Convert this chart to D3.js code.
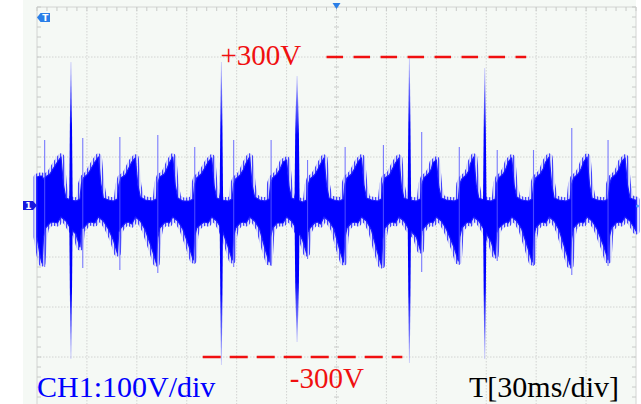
<!DOCTYPE html>
<html><head><meta charset="utf-8">
<script src="https://cdn.jsdelivr.net/npm/d3@7"></script>
<style>
html,body{margin:0;padding:0;background:#fff;}
svg{display:block;}
</style></head>
<body>
<svg id="c" width="641" height="404"></svg>
<script>
// ---- data (time in ms, voltage in V) ----
const envT  = [0,1.8,3.0,3.9,5.1,7.8,9.6,12.3,
 14.4,15.9,17.4,20.4,23.4,25.8,26.7,27.9,30.6,32.4,34.8,
 36.9,38.4,39.9,42.9,45.9,48.3,49.2,50.4,53.1,54.9,57.0,
 59.1,60.6,62.1,65.1,69.3,71.7,72.6,73.8,76.5,78.3,79.5,
 81.6,83.1,84.6,87.6,91.5,93.9,94.8,96.0,98.7,100.5,102.9,
 105.0,106.5,108.0,111.0,114.9,117.3,118.2,119.4,122.1,123.9,125.7,
 127.8,129.3,130.8,133.8,137.1,139.5,140.4,141.6,144.3,146.1,147.9,
 150.0,151.5,153.0,156.0,159.6,162.0,162.9,164.1,166.8,168.6,170.4,
 172.5,174.0,175.5,178.5,181.8,184.2,185.1,186.3,189.0,190.8,192.9,
 195.0,196.5,198.0,201.0,204.6,207.0,207.9,209.1,211.8,213.6,215.4,
 217.5,219.0,220.5,223.5,228.0,230.4,231.3,232.5,235.2,237.0,237.9,
 240.0,241.5,243.0,246.0,250.8,253.2,254.1,255.3,258.0,259.8,260.4,
 262.5,264.0,265.5,268.5,273.0,275.4,276.3,277.5,280.2,282.0,283.2,
 285.3,286.8,288.3,291.3,295.2,297.6,298.5,299.7,302.4,304.2,305.7,
 307.8,309.3,310.8,313.8,318.0,320.4,321.3,322.5,325.2,327.0,328.5,
 330.6,332.1,333.6,336.6,340.8,343.2,344.1,345.3,348.0,349.8,351.3,
 353.4,354.9,356.4,359.4,360];
const envHi = [60,62,62,56,60,66,76,90,
 100,44,18,14,12,16,46,58,66,76,90,
 100,46,18,14,12,16,44,58,64,76,90,
 98,44,20,14,12,16,48,60,66,78,88,
 100,44,18,12,12,16,46,58,66,76,90,
 98,42,18,14,12,16,46,56,64,74,88,
 100,44,20,14,12,16,48,58,66,76,90,
 94,40,18,14,10,14,44,56,64,74,86,
 98,44,18,14,12,16,46,58,66,76,90,
 98,44,18,14,12,16,46,58,64,76,88,
 98,42,18,14,12,16,46,58,66,76,88,
 94,40,18,14,12,16,46,56,64,74,86,
 100,44,18,14,12,16,48,58,66,78,90,
 98,44,20,14,12,16,46,58,66,76,90,
 100,46,18,14,12,16,46,58,66,76,90,
 100,44,18,14,12,16,46,58,66,76,90,
 98,44,18,14,14];
const envLo = [-60,-96,-112,-62,-42,-32,-30,-32,
 -20,-24,-28,-44,-54,-80,-44,-42,-32,-30,-32,
 -20,-24,-28,-44,-66,-92,-50,-42,-32,-30,-34,
 -20,-24,-28,-46,-86,-112,-62,-42,-32,-30,-32,
 -20,-24,-28,-44,-80,-106,-58,-42,-34,-30,-32,
 -20,-24,-28,-44,-80,-106,-58,-42,-32,-30,-32,
 -20,-24,-28,-44,-84,-110,-60,-42,-32,-32,-32,
 -20,-24,-28,-44,-66,-92,-50,-42,-32,-30,-34,
 -20,-24,-28,-44,-84,-110,-60,-42,-32,-30,-32,
 -20,-24,-28,-46,-90,-116,-64,-42,-32,-30,-32,
 -20,-24,-28,-44,-60,-86,-48,-42,-32,-30,-32,
 -20,-24,-28,-44,-82,-108,-60,-42,-32,-30,-32,
 -20,-24,-28,-44,-70,-96,-52,-42,-34,-30,-32,
 -20,-24,-28,-44,-84,-110,-60,-42,-32,-30,-32,
 -20,-24,-28,-46,-90,-116,-64,-42,-32,-30,-32,
 -20,-24,-28,-44,-80,-106,-58,-42,-32,-30,-32,
 -20,-24,-28,-44,-48];

// thin noise spikes
const thinT  = [4.6,27.5,49.8,72.6,94.8,118.2,140.7,162.6,185.2,208.2,231.2,253.8,276.6,298.4,321.4,343.2];
const thinHi = [134,138,140,144,120,134,134,94,120,124,150,120,114,114,158,134];
const thinLo = [-120,-122,-126,-132,-114,-120,-118,-104,-116,-122,-130,-116,-108,-118,-136,-118];

// large spikes
const majT  = [20.4,110.8,156.3,223.8,269.1];
const majHi = [290,290,262,298,278];
const majLo = [-304,-316,-270,-312,-304];

// reference levels
const refV     = [300,-300];
const refStart = [174,99.6];
const refEnd   = [294,219.6];
const refText  = ["+300V","-300V"];

const chText = "CH1:100V/div";
const tbText = "T[30ms/div]";

// ---- drawing ----
const svg = d3.select("#c");
const W = 641, H = 404;
const x = d3.scaleLinear().domain([0,360]).range([37,636]);
const y = d3.scaleLinear().domain([-400,400]).range([407,7]);

const defs = svg.append("defs");
const pat = defs.append("pattern").attr("id","streak").attr("patternUnits","userSpaceOnUse")
  .attr("width",3).attr("height",6);
pat.append("rect").attr("x",0).attr("y",0).attr("width",3).attr("height",6).attr("fill","#b4b4ff").attr("fill-opacity",0.35);
pat.append("rect").attr("x",0).attr("y",0).attr("width",1.2).attr("height",6).attr("fill","#2828ff").attr("fill-opacity",0.85);

// panel background
svg.append("rect").attr("x",23).attr("y",0).attr("width",613).attr("height",H).attr("fill","#f5f9f5");

const grid = svg.append("g");
const xMaj = d3.range(0,361,30), yMaj = d3.range(-400,401,100);
grid.selectAll(".vx").data(xMaj).join("line")
  .attr("x1",d=>x(d)).attr("x2",d=>x(d)).attr("y1",y(400)).attr("y2",y(-400))
  .attr("stroke","#d2d4d2").attr("stroke-width",1)
  .attr("stroke-dasharray",(d,i)=> (i===0||i===xMaj.length-1)?null:"1.5,1.5");
grid.selectAll(".hy").data(yMaj).join("line")
  .attr("x1",x(0)).attr("x2",x(360)).attr("y1",d=>y(d)).attr("y2",d=>y(d))
  .attr("stroke","#d2d4d2").attr("stroke-width",1)
  .attr("stroke-dasharray",d=> (d===400)?null:"1.5,1.5");

// minor ticks
const xMin = d3.range(0,361,6), yMin = d3.range(-400,401,20);
const tk = svg.append("g").attr("stroke","#c8cac8").attr("stroke-width",1);
tk.selectAll(".t1").data(xMin).join("line")
  .attr("x1",d=>x(d)).attr("x2",d=>x(d)).attr("y1",y(400)).attr("y2",y(400)+4);
tk.selectAll(".t2").data(xMin).join("line")
  .attr("x1",d=>x(d)).attr("x2",d=>x(d)).attr("y1",y(0)-2.5).attr("y2",y(0)+2.5);
tk.selectAll(".t3").data(yMin).join("line")
  .attr("x1",x(0)).attr("x2",x(0)+4).attr("y1",d=>y(d)).attr("y2",d=>y(d));
tk.selectAll(".t4").data(yMin).join("line")
  .attr("x1",x(180)-2.5).attr("x2",x(180)+2.5).attr("y1",d=>y(d)).attr("y2",d=>y(d));
tk.selectAll(".t5").data(yMin).join("line")
  .attr("x1",x(360)-4).attr("x2",x(360)).attr("y1",d=>y(d)).attr("y2",d=>y(d));

// waveform band: streaky fuzz edge, then solid core
const env = envT.map((t,i)=>({t,hi:envHi[i],lo:envLo[i]}));
const area = d3.area().x(d=>x(d.t)).y0(d=>y(d.lo)).y1(d=>y(d.hi));
svg.append("path").datum(env).attr("d",area)
  .attr("fill","none").attr("stroke","url(#streak)").attr("stroke-width",7)
  .attr("stroke-linejoin","round");
svg.append("path").datum(env).attr("d",area)
  .attr("fill","#0000ff").attr("stroke","#1a1aff").attr("stroke-width",1.2)
  .attr("stroke-linejoin","round");

// thin spikes
svg.append("g").selectAll("line").data(thinT.map((t,i)=>({t,hi:thinHi[i],lo:thinLo[i]}))).join("line")
  .attr("x1",d=>x(d.t)).attr("x2",d=>x(d.t)).attr("y1",d=>y(d.hi)).attr("y2",d=>y(d.lo))
  .attr("stroke","#5a5aff").attr("stroke-width",1.1).attr("stroke-opacity",0.8);

// gradients for big spikes
function grad(id, up){
  const g = defs.append("linearGradient").attr("id",id)
    .attr("x1",0).attr("x2",0).attr("y1",up?1:0).attr("y2",up?0:1);
  g.append("stop").attr("offset",0).attr("stop-color","#0000ff").attr("stop-opacity",1);
  g.append("stop").attr("offset",0.55).attr("stop-color","#0000ff").attr("stop-opacity",1);
  g.append("stop").attr("offset",0.8).attr("stop-color","#3a3aff").attr("stop-opacity",0.75);
  g.append("stop").attr("offset",1).attr("stop-color","#8c8cff").attr("stop-opacity",0.45);
}
grad("gUp",true); grad("gDn",false);
const sp = svg.append("g");
majT.forEach((t,i)=>{
  const xc = x(t), y0 = y(0);
  const w0 = i===2?2.6:1.8, w1 = i===2?1.8:1.0;
  [[majHi[i],"gUp"],[majLo[i],"gDn"]].forEach(([v,g])=>{
    const yt = y(v), ym = y0 + (yt-y0)*0.6;
    sp.append("path")
      .attr("d",`M${xc-w0},${y0}L${xc-w1},${ym}L${xc-0.4},${yt}L${xc+0.4},${yt}L${xc+w1},${ym}L${xc+w0},${y0}Z`)
      .attr("fill",`url(#${g})`);
  });
});

// reference dashed lines + labels
const ref = svg.append("g");
refV.forEach((v,i)=>{
  ref.append("line").attr("x1",x(refStart[i])).attr("x2",x(refEnd[i]))
    .attr("y1",y(v)).attr("y2",y(v))
    .attr("stroke","#f01010").attr("stroke-width",2.6)
    .attr("stroke-dasharray", i===0 ? "16.5,10.5" : "18,9");
});
const serif = "'Liberation Serif','Times New Roman',serif";
ref.append("text").attr("x",x(refStart[0])-106).attr("y",y(refV[0])+8)
  .attr("font-family",serif).attr("font-size",29).attr("fill","#f01010").text(refText[0]);
ref.append("text").attr("x",x(refStart[1])+87).attr("y",y(refV[1])+31)
  .attr("font-family",serif).attr("font-size",29).attr("fill","#f01010").text(refText[1]);

svg.append("text").attr("x",37).attr("y",397).attr("font-family",serif).attr("font-size",30)
  .attr("fill","#0000ff").text(chText);
svg.append("text").attr("x",469).attr("y",397).attr("font-family",serif).attr("font-size",30)
  .attr("fill","#000").text(tbText);

// markers
svg.append("path").attr("d","M37,17.5L40.5,13L50,13L50,22L40.5,22Z").attr("fill","#2a7fe8");
svg.append("text").attr("x",45.2).attr("y",21).attr("text-anchor","middle")
  .attr("font-family","DejaVu Sans,sans-serif").attr("font-size",9).attr("font-weight","bold")
  .attr("fill","#fff").text("T");
svg.append("path").attr("d","M23,201L33,201L37,205.5L33,210L23,210Z").attr("fill","#1818e0");
svg.append("text").attr("x",28.5).attr("y",209).attr("text-anchor","middle")
  .attr("font-family","DejaVu Sans,sans-serif").attr("font-size",9).attr("font-weight","bold")
  .attr("fill","#fff").text("1");
svg.append("path").attr("d",`M${x(180)-4},3L${x(180)+4},3L${x(180)},9Z`).attr("fill","#2a7fe8");
svg.append("circle").attr("cx",x(360)+1.5).attr("cy",y(0)-1).attr("r",1.5).attr("fill","#4aa0ff");
</script>
</body></html>
